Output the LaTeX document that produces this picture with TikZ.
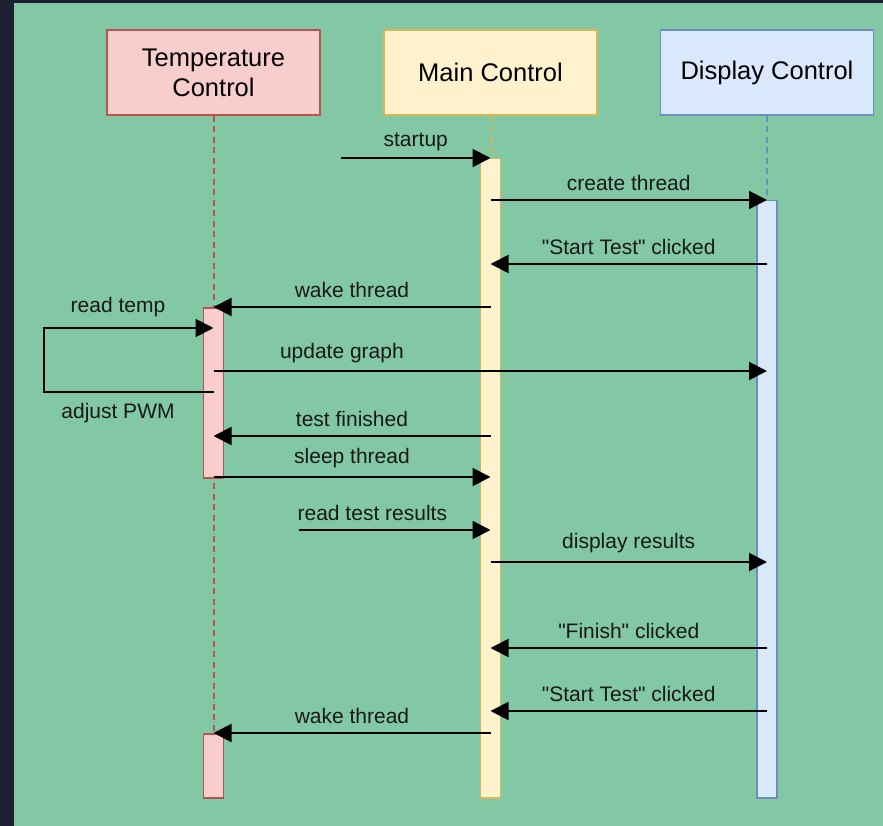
\documentclass[tikz,border=0pt]{standalone}
\usepackage{fontspec}
\setmainfont{Liberation Sans}[Ligatures=TeXOff]
\usetikzlibrary{arrows.meta}
\definecolor{frame}{HTML}{1C2030}
\definecolor{bg}{HTML}{82C8A5}
\definecolor{tfill}{HTML}{F8CECC}\definecolor{tdraw}{HTML}{B85450}
\definecolor{mfill}{HTML}{FFF2CC}\definecolor{mdraw}{HTML}{D6B656}
\definecolor{dfill}{HTML}{DAE8FC}\definecolor{ddraw}{HTML}{6C8EBF}
\tikzset{
  actor/.style={rectangle, minimum width=213pt, minimum height=85pt, line width=1.5pt, align=center, font=\fontsize{25.5}{30}\selectfont, inner sep=0pt},
  bar/.style={rectangle, anchor=north, minimum width=20pt, inner sep=0pt, line width=1.5pt},
  life/.style={dash pattern=on 6pt off 4.5pt, line width=2pt},
  msg/.style={line width=2pt, -{Triangle[length=18pt,width=18pt]}},
  lbl/.style={font=\fontsize{21}{25}\selectfont, inner sep=0pt, text=black!90}
}
\begin{document}
\begin{tikzpicture}[x=1pt,y=-1pt]
\fill[frame] (0,0) rectangle (883,826);
\fill[bg] (14,3) rectangle (883,826);
\useasboundingbox (0,0) rectangle (883,826);
% actors
\node[actor, fill=tfill, draw=tdraw] (tc) at (213.5,72.5) {Temperature\\Control};
\node[actor, fill=mfill, draw=mdraw] (mc) at (490.5,72.5) {Main Control};
\node[actor, fill=dfill, draw=ddraw] (dc) at (767,72.5) {Display Control};
% lifelines
\draw[life, tdraw] (tc.south) -- (tc.south |- 0,733);
\draw[life, mdraw] (mc.south) -- (mc.south |- 0,158);
\draw[life, ddraw] (dc.south) -- (dc.south |- 0,200);
% activation bars
\node[bar, fill=mfill, draw=mdraw, minimum height=639pt] (mb) at (490.5,158) {};
\node[bar, fill=dfill, draw=ddraw, minimum height=597pt] (db) at (767,200) {};
\node[bar, fill=tfill, draw=tdraw, minimum height=170pt] (tb1) at (213.5,307) {};
\node[bar, fill=tfill, draw=tdraw, minimum height=64pt] (tb2) at (213.5,733) {};
% free ends
\coordinate (s0) at (341,158);
\coordinate (r0) at (299,530);
\coordinate (l1) at (44,392);
\coordinate (l2) at (44,328);
% messages
\draw[msg] (s0) -- (mc |- 0,158) node[lbl, midway, above=6pt] {startup};
\draw[msg] (mc |- 0,200) -- (dc |- 0,200) node[lbl, midway, above=8pt] {create thread};
\draw[msg] (dc |- 0,264) -- (mc |- 0,264) node[lbl, midway, above=8pt] {"Start Test" clicked};
\draw[msg] (mc |- 0,307) -- (tc |- 0,307) node[lbl, midway, above=8pt] {wake thread};
\draw[msg] (tc |- 0,392) -- (l1) -- (l2) -- (tc |- 0,328);
\node[lbl] at (118,307) {read temp};
\node[lbl] at (118,413) {adjust PWM};
\draw[msg] (tc |- 0,371) -- (dc |- 0,371) node[lbl, pos=0.232, above=7pt] {update graph};
\draw[msg] (mc |- 0,436) -- (tc |- 0,436) node[lbl, midway, above=8pt] {test finished};
\draw[msg] (tc |- 0,477) -- (mc |- 0,477) node[lbl, midway, above=8pt] {sleep thread};
\draw[msg] (r0) -- (mc |- 0,530) node[lbl, pos=0.383, above=8pt] {read test results};
\draw[msg] (mc |- 0,562) -- (dc |- 0,562) node[lbl, midway, above=8pt] {display results};
\draw[msg] (dc |- 0,648) -- (mc |- 0,648) node[lbl, midway, above=8pt] {"Finish" clicked};
\draw[msg] (dc |- 0,711) -- (mc |- 0,711) node[lbl, midway, above=8pt] {"Start Test" clicked};
\draw[msg] (mc |- 0,733) -- (tc |- 0,733) node[lbl, midway, above=8pt] {wake thread};
\end{tikzpicture}
\end{document}
